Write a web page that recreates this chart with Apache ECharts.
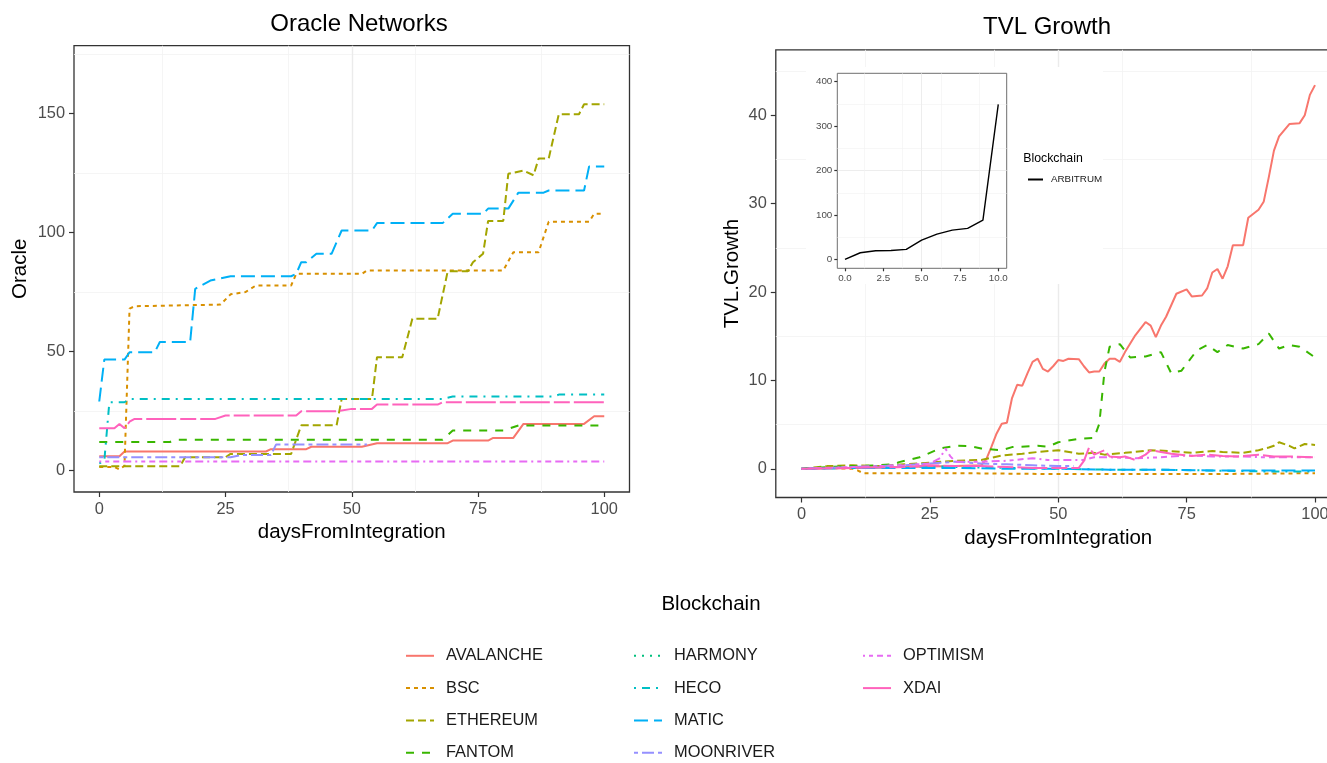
<!DOCTYPE html>
<html><head><meta charset="utf-8">
<script src="https://cdn.jsdelivr.net/npm/echarts@6/dist/echarts.min.js"></script>
<style>html,body{margin:0;padding:0;background:#fff}#c{width:1327px;height:763px}</style>
</head><body><div id="c"></div>
<script>
// ---------- categories ----------
const chains = ['AVALANCHE','BSC','ETHEREUM','FANTOM','HARMONY','HECO','MATIC','MOONRIVER','OPTIMISM','XDAI'];
const legendCol1 = ['AVALANCHE','BSC','ETHEREUM','FANTOM'];
const legendCol2 = ['HARMONY','HECO','MATIC','MOONRIVER'];
const legendCol3 = ['OPTIMISM','XDAI'];

// ---------- tick labels ----------
const daysTicks = [0,25,50,75,100];
const oracleTicks = [0,50,100,150];
const tvlTicks = [0,10,20,30,40];
const insetXTicks = [0,2.5,5,7.5,10];
const insetYTicks = [0,100,200,300,400];

// ---------- Oracle Networks: [daysFromIntegration, Oracle] ----------
const oracleAvalanche = [[0,6],[4,6],[5,8],[33,8],[34,9],[41,9],[42,10],[52,10],[55,11.5],[69,11.5],[70,12.6],[77,12.6],[78,13.7],[82,13.7],[84,19.6],[96,19.6],[98,22.8],[100,22.8]];
const oracleBsc = [[0,1.5],[3,1.5],[4,0.5],[5,2],[6,68],[7,69],[24,69.7],[26,74],[29,75],[31,77.7],[38,77.7],[39,82.6],[52,82.6],[53,84],[80,84],[82,91.7],[87,91.7],[89,104.5],[97,104.5],[98,107.8],[100,107.8]];
const oracleEthereum = [[0,1.8],[16,1.8],[17,5.6],[25,5.6],[26,7],[38,7],[40,19],[47,19],[48,30],[54,30],[55,47.6],[60,47.6],[62,63.7],[67,63.7],[69,83.7],[73,83.7],[74,87.5],[76,91],[77,104.8],[80,104.8],[81,124.6],[84,126],[86,124],[87,131],[89,131],[91,149.6],[95,149.6],[96,153.8],[100,153.8]];
const oracleFantom = [[0,12],[14,12],[15,12.9],[68,12.9],[70,16.8],[80,16.8],[83,18.9],[100,18.9]];
const oracleHarmony = [];
const oracleHeco = [[0,3],[1,4],[2,28.7],[5,28.7],[6,30.1],[68,30.1],[70,31.1],[90,31.1],[91,31.9],[100,31.9]];
const oracleMatic = [[0,29],[1,46.6],[5,46.6],[6,49.7],[11,49.7],[12,54],[18,54],[19,76.3],[22,79.8],[26,81.6],[38,81.6],[39,82.6],[40,87.5],[41,87.5],[43,91],[46,91],[48,100.8],[54,100.8],[55,103.9],[68,103.9],[70,107.8],[76,107.8],[77,110],[81,110],[83,116.7],[88,116.7],[89,117.6],[96,117.6],[97,127.7],[100,127.7]];
const oracleMoonriver = [[0,5.6],[26,5.6],[28,6.5],[34,6.5],[35,10.9],[53,10.9]];
const oracleOptimism = [[0,3.8],[100,3.8]];
const oracleXdai = [[0,17.8],[3,17.8],[4,19.6],[5,17.8],[6,20.5],[7,21.7],[23,21.7],[25,23.1],[39,23.1],[40,24.9],[47,24.9],[50,25.9],[54,25.9],[55,27.7],[67,27.7],[68,28.7],[100,28.7]];

// ---------- TVL Growth: [daysFromIntegration, TVL.Growth] ----------
const tvlAvalanche = [[0,0],[10,0.1],[20,0.2],[30,0.3],[35,0.4],[36,1.1],[37,2.5],[38,4],[39,5.1],[40,5.2],[41,8],[42,9.5],[43,9.4],[44,10.8],[45,12.1],[46,12.45],[47,11.3],[48,11],[49,11.6],[50,12.3],[51,12.2],[52,12.45],[54,12.4],[55,11.6],[56,10.9],[57,11],[58,11],[59,11.9],[60,12.45],[61,12.45],[62,12.1],[63,13.2],[65,15.1],[67,16.6],[68,16.2],[69,14.9],[70,16.2],[71,17.2],[73,19.8],[75,20.3],[76,19.5],[78,19.6],[79,20.4],[80,22.2],[81,22.6],[82,21.5],[83,22.9],[84,25.3],[86,25.3],[87,28.4],[89,29.3],[90,30.2],[91,33],[92,36],[93,37.6],[95,39],[97,39.1],[98,40],[99,42.3],[100,43.4]];
const tvlBsc = [[0,0],[5,0.1],[10,0],[11,-0.2],[12,-0.5],[20,-0.5],[30,-0.5],[40,-0.55],[50,-0.6],[60,-0.6],[70,-0.6],[80,-0.6],[90,-0.55],[100,-0.5]];
const tvlEthereum = [[0,0],[5,0.3],[10,0.4],[15,0.3],[20,0.5],[25,0.7],[30,0.9],[35,1.0],[39,1.5],[43,1.7],[46,1.9],[50,2.1],[54,1.7],[57,1.8],[59,1.6],[63,1.8],[68,2.1],[72,2.0],[76,1.8],[80,2.0],[82,1.9],[86,1.8],[89,2.1],[91,2.4],[92,2.6],[93,3.0],[95,2.6],[96,2.3],[98,2.8],[100,2.7]];
const tvlFantom = [[0,0],[5,0.2],[10,0.3],[15,0.4],[18,0.5],[19,0.75],[23,1.3],[27,2.3],[30,2.6],[33,2.55],[35,2.3],[39,2.1],[41,2.45],[46,2.6],[48,2.5],[50,3.0],[54,3.4],[57,3.5],[58,5.1],[59,11],[60,13.8],[62,14.1],[64,12.6],[67,12.7],[70,13.2],[72,10.8],[74,11.1],[77,13.4],[79,14],[81,13.2],[83,14],[86,13.6],[89,14.1],[91,15.3],[93,13.6],[95,14],[97,13.8],[100,12.6]];
const tvlHarmony = [];
const tvlHeco = [[0,0],[10,0.1],[20,0.2],[25,0.3],[30,0.2],[40,0.1],[50,0],[60,-0.1],[70,-0.1],[80,-0.2],[90,-0.3],[100,-0.3]];
const tvlMatic = [[0,0],[10,0.1],[20,0.1],[30,0.1],[40,0],[50,0],[60,-0.1],[70,-0.1],[80,-0.2],[90,-0.2],[100,-0.2]];
const tvlMoonriver = [[0,0],[10,0.2],[20,0.4],[25,0.6],[30,0.8],[35,0.6],[40,0.5],[45,0.4],[50,0.3],[53,0.3]];
const tvlOptimism = [[0,0],[10,0.2],[20,0.4],[25,0.6],[27,1.2],[28,2.3],[29,1.4],[30,0.8],[35,0.8],[40,0.9],[45,1.2],[48,1.0],[52,1.0],[55,1.0],[57,1.3],[60,1.3],[65,1.2],[70,1.3],[75,1.5],[80,1.4],[85,1.4],[90,1.3],[95,1.3],[100,1.3]];
const tvlXdai = [[0,0],[10,0.1],[20,0.2],[25,0.4],[30,0.3],[35,0.3],[40,0.2],[45,0.1],[50,0.1],[54,0.1],[55,0.9],[56,2.4],[57,1.6],[59,2.1],[60,1.4],[62,1.3],[63,1.4],[65,1.0],[67,1.6],[68,2.1],[70,1.9],[72,1.7],[76,1.45],[79,1.6],[82,1.45],[85,1.4],[89,1.6],[92,1.4],[95,1.4],[100,1.3]];

// ---------- inset: ARBITRUM ----------
const arbitrumDays = [0,1,2,3,4,5,6,7,8,9,10];
const arbitrumTvl = [0,15,19.5,20,22.5,43.5,57,66,70,88.5,349];

// ---------- styles ----------
const FONT = '"Liberation Sans", Arial, Helvetica, sans-serif';
const colors = ['#F8766D','#D89000','#A3A500','#39B600','#00BF7D','#00BFC4','#00B0F6','#9590FF','#E76BF3','#FF62BC'];
const dashes = ['solid',[4,4],[8,4],[8,8],[2,6],[2,6,8,6],[14,6],[4,4,12,4],[2,4,4,4,6,4,8,4],[30,4,16,4]];
const oracleSets = [oracleAvalanche,oracleBsc,oracleEthereum,oracleFantom,oracleHarmony,oracleHeco,oracleMatic,oracleMoonriver,oracleOptimism,oracleXdai];
const tvlSets = [tvlAvalanche,tvlBsc,tvlEthereum,tvlFantom,tvlHarmony,tvlHeco,tvlMatic,tvlMoonriver,tvlOptimism,tvlXdai];
const MAJOR = '#EBEBEB', MINOR = '#F2F2F2', NONE = 'rgba(0,0,0,0)';
function pattern(period, idx, color){ const a=[]; for(let i=0;i<period;i++) a.push(i===idx?color:NONE); return a; }

function axis(o){
  const a = {
    type:'value', gridIndex:o.grid, position:o.pos, min:o.min, max:o.max, interval:o.interval, z:o.z||0,
    axisLine:{show:false, onZero:false},
    axisTick:{show:!!o.ticks, customValues:o.ticks, length:o.tickLen||5, lineStyle:{color:'#333333', width:1.2}},
    axisLabel:{show:!!o.ticks, customValues:o.ticks, color:'#4D4D4D', fontSize:o.fs||16.4, fontFamily:FONT, margin:o.margin||9,
      formatter:o.fmt || function(v){ return (o.ticks && o.ticks.indexOf(v)>=0) ? String(v) : ''; }},
    splitLine:{show:true, lineStyle:{color:pattern(o.period,o.idx,o.minor?MINOR:MAJOR), width:o.minor?(o.mw||0.8):(o.w||1.4)}}
  };
  if (o.name){ a.name=o.name; a.nameLocation='middle'; a.nameGap=o.gap; a.nameTextStyle={fontSize:20.5, color:'#000', fontFamily:FONT}; }
  return a;
}

const xAxes = [
  axis({grid:0,pos:'bottom',min:-5,max:105,interval:2.5,ticks:daysTicks,period:10,idx:2,name:'daysFromIntegration',gap:27}),
  axis({grid:0,pos:'top',min:-5,max:105,interval:2.5,period:10,idx:7,minor:true}),
  axis({grid:1,pos:'bottom',min:-5,max:105,interval:2.5,ticks:daysTicks,period:10,idx:2,name:'daysFromIntegration',gap:27}),
  axis({grid:1,pos:'top',min:-5,max:105,interval:2.5,period:10,idx:7,minor:true}),
  axis({grid:2,pos:'bottom',min:-0.5,max:10.55,interval:0.25,ticks:insetXTicks,period:10,idx:2,z:6,fs:9.8,margin:5,tickLen:3,w:0.9,fmt:function(v){return insetXTicks.indexOf(v)>=0?v.toFixed(1):'';}}),
  axis({grid:2,pos:'top',min:-0.5,max:10.55,interval:0.25,period:10,idx:7,minor:true,z:6,mw:0.6})
];
const yAxes = [
  axis({grid:0,pos:'left',min:-9,max:178.4,interval:1,ticks:oracleTicks,period:50,idx:9,name:'Oracle',gap:43}),
  axis({grid:0,pos:'right',min:-9,max:178.4,interval:1,period:50,idx:34,minor:true}),
  axis({grid:1,pos:'left',min:-3.25,max:47.4,interval:0.25,ticks:tvlTicks,period:40,idx:13,name:'TVL.Growth',gap:33}),
  axis({grid:1,pos:'right',min:-3.25,max:47.4,interval:0.25,period:40,idx:33,minor:true}),
  axis({grid:2,pos:'left',min:-20,max:419,interval:10,ticks:insetYTicks,period:10,idx:2,z:6,fs:9.8,margin:5,tickLen:3,w:0.9}),
  axis({grid:2,pos:'right',min:-20,max:419,interval:10,period:10,idx:7,minor:true,z:6,mw:0.6})
];

const series = [];
chains.forEach((c,i)=>{
  series.push({name:c,type:'line',xAxisIndex:0,yAxisIndex:0,data:oracleSets[i],symbol:'none',
    lineStyle:{color:colors[i],width:2,type:dashes[i]},itemStyle:{color:colors[i]},z:2});
});
chains.forEach((c,i)=>{
  series.push({name:c,type:'line',xAxisIndex:2,yAxisIndex:2,data:tvlSets[i],symbol:'none',
    lineStyle:{color:colors[i],width:2,type:dashes[i]},itemStyle:{color:colors[i]},z:2});
});
series.push({name:'ARBITRUM',type:'line',xAxisIndex:4,yAxisIndex:4,data:arbitrumDays.map((d,i)=>[d,arbitrumTvl[i]]),symbol:'none',
  lineStyle:{color:'#000',width:1.4},itemStyle:{color:'#000'},z:7});

const hiddenSymbol = {color:'rgba(0,0,0,0)', borderColor:'rgba(0,0,0,0)', borderWidth:0, opacity:0};
function legendCol(left, data){
  return {orient:'vertical', left:left, top:647.8, itemWidth:28, itemHeight:14, itemGap:16.3, padding:0,
    selectedMode:false, data:data, itemStyle:hiddenSymbol,
    textStyle:{fontSize:16.4, color:'#1A1A1A', fontFamily:FONT, padding:[0,0,0,7]}};
}

const chart = echarts.init(document.getElementById('c'), null, {renderer:'canvas'});
chart.setOption({
  animation:false,
  backgroundColor:'#fff',
  grid:[
    {left:74, top:45.7, width:555.5, height:446.3, show:true, borderColor:'#333333', borderWidth:1.3, backgroundColor:'transparent', outerBoundsMode:'none', containLabel:false},
    {left:775.8, top:49.8, width:564.9, height:447.7, show:true, borderColor:'#333333', borderWidth:1.3, backgroundColor:'transparent', outerBoundsMode:'none', containLabel:false},
    {left:837.3, top:73.3, width:169.4, height:195, show:true, borderColor:'#6E6E6E', borderWidth:1, backgroundColor:'transparent', z:6, outerBoundsMode:'none', containLabel:false}
  ],
  xAxis:xAxes, yAxis:yAxes, series:series,
  legend:[
    legendCol(405, legendCol1), legendCol(633, legendCol2), legendCol(862, legendCol3),
    {orient:'vertical', left:1027, top:174.5, itemWidth:15, itemHeight:10, padding:0, selectedMode:false, z:8,
      data:['ARBITRUM'], itemStyle:hiddenSymbol, textStyle:{fontSize:9.8, color:'#1A1A1A', fontFamily:FONT, padding:[0,0,0,3]}}
  ],
  graphic:[
    {type:'rect', shape:{x:806,y:67,width:297,height:217}, style:{fill:'#fff'}, z:5, silent:true},
    {type:'text', x:359, y:24, style:{text:'Oracle Networks', font:'24px '+FONT, fill:'#000', textAlign:'center', textVerticalAlign:'middle', align:'center', verticalAlign:'middle'}, z:10},
    {type:'text', x:1047, y:27, style:{text:'TVL Growth', font:'24px '+FONT, fill:'#000', textAlign:'center', textVerticalAlign:'middle', align:'center', verticalAlign:'middle'}, z:10},
    {type:'text', x:711, y:604, style:{text:'Blockchain', font:'20.5px '+FONT, fill:'#000', textAlign:'center', textVerticalAlign:'middle', align:'center', verticalAlign:'middle'}, z:10},
    {type:'text', x:1023.3, y:159, style:{text:'Blockchain', font:'12.3px '+FONT, fill:'#000', textAlign:'left', textVerticalAlign:'middle', align:'left', verticalAlign:'middle'}, z:10}
  ]
});
</script></body></html>
